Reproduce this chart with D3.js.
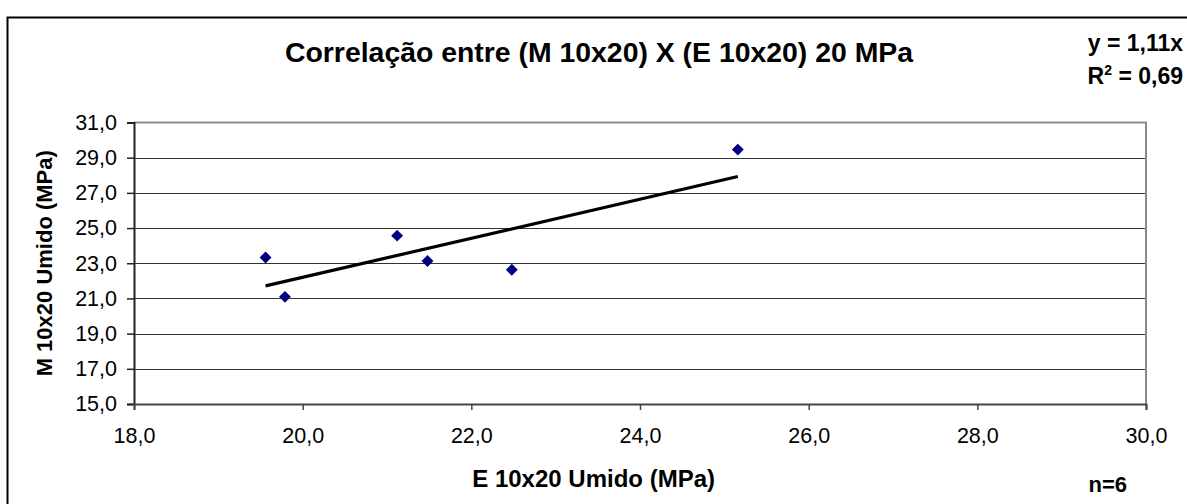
<!DOCTYPE html>
<html>
<head>
<meta charset="utf-8">
<script src="https://cdn.jsdelivr.net/npm/d3@7"></script>
<style>
  html, body { margin: 0; padding: 0; background: #fff; }
  svg { display: block; font-family: "Liberation Sans", Arial, sans-serif; }
</style>
</head>
<body>
<svg id="chart" width="1187" height="504"></svg>
<script>
// Measured strength pairs: E 10x20 (x) against M 10x20 (y), MPa
const eValues = [19.56, 19.79, 21.12, 21.48, 22.48, 25.16];
const mValues = [23.33, 21.09, 24.57, 23.13, 22.63, 29.46];
const slope = 1.11;          // linear trend through the origin
const rSquared = 0.69;
const xTicks = [18, 20, 22, 24, 26, 28, 30];
const yTicks = [15, 17, 19, 21, 23, 25, 27, 29, 31];

const fmt = v => d3.format(".1f")(v).replace(".", ",");

const svg = d3.select("#chart");
const W = 1187, H = 504;

svg.append("rect").attr("width", W).attr("height", H).attr("fill", "#fff");

// chart frame
svg.append("rect")
  .attr("x", 7.5).attr("y", 17.5)
  .attr("width", 1300).attr("height", 600)
  .attr("fill", "none").attr("stroke", "#000").attr("stroke-width", 2);

const plot = { left: 134, top: 122.5, right: 1146, bottom: 404 };

const x = d3.scaleLinear().domain([18, 30]).range([plot.left, plot.right]);
const y = d3.scaleLinear().domain([15, 31]).range([plot.bottom, plot.top]);

// horizontal gridlines
svg.append("g")
  .selectAll("line")
  .data(yTicks.slice(1, -1))
  .join("line")
  .attr("x1", plot.left).attr("x2", plot.right)
  .attr("y1", d => Math.round(y(d)) + 0.5).attr("y2", d => Math.round(y(d)) + 0.5)
  .attr("stroke", "#333").attr("stroke-width", 1.2);

// plot area border (top and right)
svg.append("path")
  .attr("d", `M${plot.left},${plot.top}H${plot.right}V${plot.bottom}`)
  .attr("fill", "none").attr("stroke", "#8c8c8c").attr("stroke-width", 2);

// y axis
const yAxis = d3.axisLeft(y).tickValues(yTicks).tickFormat(fmt).tickSize(7).tickPadding(10);
const gy = svg.append("g").attr("transform", `translate(${plot.left},0)`).call(yAxis);
gy.select(".domain").attr("stroke", "#222").attr("stroke-width", 2);
gy.selectAll(".tick line").attr("stroke", "#222").attr("stroke-width", 1.5);
gy.selectAll("text").attr("font-size", 21.5).attr("fill", "#000")
  .attr("font-family", "'Liberation Sans', Arial, sans-serif");

// x axis
const xAxis = d3.axisBottom(x).tickValues(xTicks).tickFormat(fmt).tickSize(6).tickPadding(18);
const gx = svg.append("g").attr("transform", `translate(0,${plot.bottom})`).call(xAxis);
gx.select(".domain").attr("stroke", "#444").attr("stroke-width", 2);
gx.selectAll(".tick line").attr("stroke", "#444").attr("stroke-width", 1.5);
gx.selectAll("text").attr("font-size", 21.5).attr("fill", "#000")
  .attr("font-family", "'Liberation Sans', Arial, sans-serif");

// trend line over the data range
const xMin = d3.min(eValues), xMax = d3.max(eValues);
svg.append("line")
  .attr("x1", x(xMin)).attr("y1", y(slope * xMin))
  .attr("x2", x(xMax)).attr("y2", y(slope * xMax))
  .attr("stroke", "#000").attr("stroke-width", 3.2);

// data markers
const diamond = d3.symbol().type(d3.symbolDiamond2).size(90);
svg.append("g")
  .selectAll("path")
  .data(eValues.map((e, i) => [e, mValues[i]]))
  .join("path")
  .attr("transform", d => `translate(${x(d[0])},${y(d[1])})`)
  .attr("d", diamond)
  .attr("fill", "#000080");

// titles
svg.append("text")
  .attr("x", 599).attr("y", 62)
  .attr("text-anchor", "middle")
  .attr("font-size", 28.4).attr("font-weight", "bold")
  .text("Correlação entre (M 10x20) X (E 10x20) 20 MPa");

svg.append("text")
  .attr("transform", `translate(52,${(plot.top + plot.bottom) / 2}) rotate(-90)`)
  .attr("text-anchor", "middle")
  .attr("font-size", 22).attr("font-weight", "bold")
  .text("M 10x20 Umido (MPa)");

svg.append("text")
  .attr("x", x(23.45)).attr("y", 487)
  .attr("text-anchor", "middle")
  .attr("font-size", 24).attr("font-weight", "bold")
  .text("E 10x20 Umido (MPa)");

// regression label
svg.append("text")
  .attr("x", 1183).attr("y", 51)
  .attr("text-anchor", "end")
  .attr("font-size", 23).attr("font-weight", "bold")
  .text(`y = ${d3.format(".2f")(slope).replace(".", ",")}x`);

const r2 = svg.append("text")
  .attr("x", 1183).attr("y", 84)
  .attr("text-anchor", "end")
  .attr("font-size", 23).attr("font-weight", "bold");
r2.append("tspan").text("R");
r2.append("tspan").attr("font-size", 14).attr("dy", -9).text("2");
r2.append("tspan").attr("dy", 9).text(` = ${d3.format(".2f")(rSquared).replace(".", ",")}`);

svg.append("text")
  .attr("x", 1127).attr("y", 492)
  .attr("text-anchor", "end")
  .attr("font-size", 22).attr("font-weight", "bold")
  .text("n=6");
</script>
</body>
</html>
